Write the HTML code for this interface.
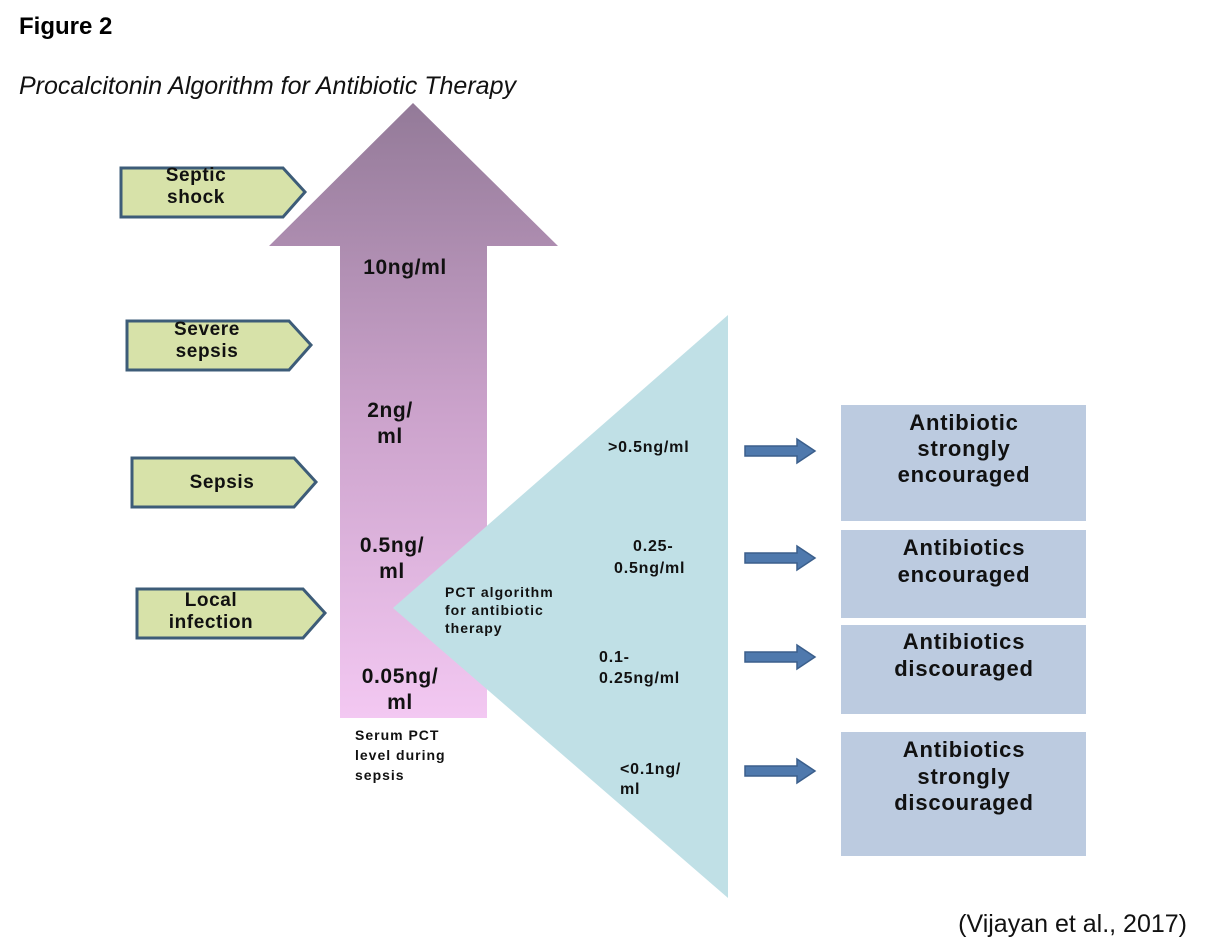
<!DOCTYPE html>
<html><head><meta charset="utf-8"><style>
html,body{margin:0;padding:0;background:#fff;}
svg{display:block;}
text{font-family:"Liberation Sans",Arial,sans-serif;}
.b{font-weight:bold;fill:#111;}
</style></head><body>
<svg width="1226" height="944" viewBox="0 0 1226 944" xmlns="http://www.w3.org/2000/svg">
<defs>
<linearGradient id="pg" gradientUnits="userSpaceOnUse" x1="0" y1="103" x2="0" y2="718">
<stop offset="0" stop-color="#937a98"/>
<stop offset="0.5" stop-color="#cba2cb"/>
<stop offset="1" stop-color="#f3c8f2"/>
</linearGradient>
</defs>
<text x="19" y="34" font-size="24" class="b" style="fill:#000">Figure 2</text>
<text x="19" y="94" font-size="25" font-style="italic" fill="#111">Procalcitonin Algorithm for Antibiotic Therapy</text>

<polygon points="413,103 558,246 487,246 487,718 340,718 340,246 269,246" fill="url(#pg)"/>
<polygon points="393,608 728,315 728,898" fill="#c0e0e6"/>

<g fill="#d7e2a9" stroke="#3d5c78" stroke-width="3">
<polygon points="121,168 283,168 305,192 283,217 121,217"/>
<polygon points="127,321 289,321 311,345 289,370 127,370"/>
<polygon points="132,458 294,458 316,482 294,507 132,507"/>
<polygon points="137,589 303,589 325,613 303,638 137,638"/>
</g>
<g font-size="19" class="b" text-anchor="middle" letter-spacing="0.6">
<text x="196" y="181">Septic</text><text x="196" y="203">shock</text>
<text x="207" y="335">Severe</text><text x="207" y="357">sepsis</text>
<text x="222" y="488">Sepsis</text>
<text x="211" y="606">Local</text><text x="211" y="628">infection</text>
</g>

<g font-size="21" class="b" text-anchor="middle" letter-spacing="0.6">
<text x="405" y="274">10ng/ml</text>
<text x="390" y="417">2ng/</text><text x="390" y="443">ml</text>
<text x="392" y="552">0.5ng/</text><text x="392" y="578">ml</text>
<text x="400" y="683">0.05ng/</text><text x="400" y="709">ml</text>
</g>
<g font-size="14" class="b" letter-spacing="1">
<text x="355" y="740">Serum PCT</text>
<text x="355" y="760">level during</text>
<text x="355" y="780">sepsis</text>
<text x="445" y="597">PCT algorithm</text>
<text x="445" y="615">for antibiotic</text>
<text x="445" y="633">therapy</text>
</g>
<g font-size="16" class="b" letter-spacing="0.8">
<text x="608" y="452">&gt;0.5ng/ml</text>
<text x="633" y="551">0.25-</text><text x="614" y="573">0.5ng/ml</text>
<text x="599" y="662">0.1-</text><text x="599" y="683">0.25ng/ml</text>
<text x="620" y="774">&lt;0.1ng/</text><text x="620" y="794">ml</text>
</g>

<g fill="#4f79ad" stroke="#3b5f8c" stroke-width="1.5">
<polygon points="745,446 797,446 797,439 815,451 797,463 797,456 745,456"/>
<polygon points="745,553 797,553 797,546 815,558 797,570 797,563 745,563"/>
<polygon points="745,652 797,652 797,645 815,657 797,669 797,662 745,662"/>
<polygon points="745,766 797,766 797,759 815,771 797,783 797,776 745,776"/>
</g>

<g fill="#bccbe0">
<rect x="841" y="405" width="245" height="116"/>
<rect x="841" y="530" width="245" height="88"/>
<rect x="841" y="625" width="245" height="89"/>
<rect x="841" y="732" width="245" height="124"/>
</g>
<g font-size="22" class="b" text-anchor="middle" letter-spacing="0.8">
<text x="964" y="430">Antibiotic</text>
<text x="964" y="456">strongly</text>
<text x="964" y="482">encouraged</text>
<text x="964" y="555">Antibiotics</text>
<text x="964" y="582">encouraged</text>
<text x="964" y="649">Antibiotics</text>
<text x="964" y="676">discouraged</text>
<text x="964" y="757">Antibiotics</text>
<text x="964" y="784">strongly</text>
<text x="964" y="810">discouraged</text>
</g>

<text x="1187" y="932" font-size="25" fill="#111" text-anchor="end">(Vijayan et al., 2017)</text>
</svg>
</body></html>
